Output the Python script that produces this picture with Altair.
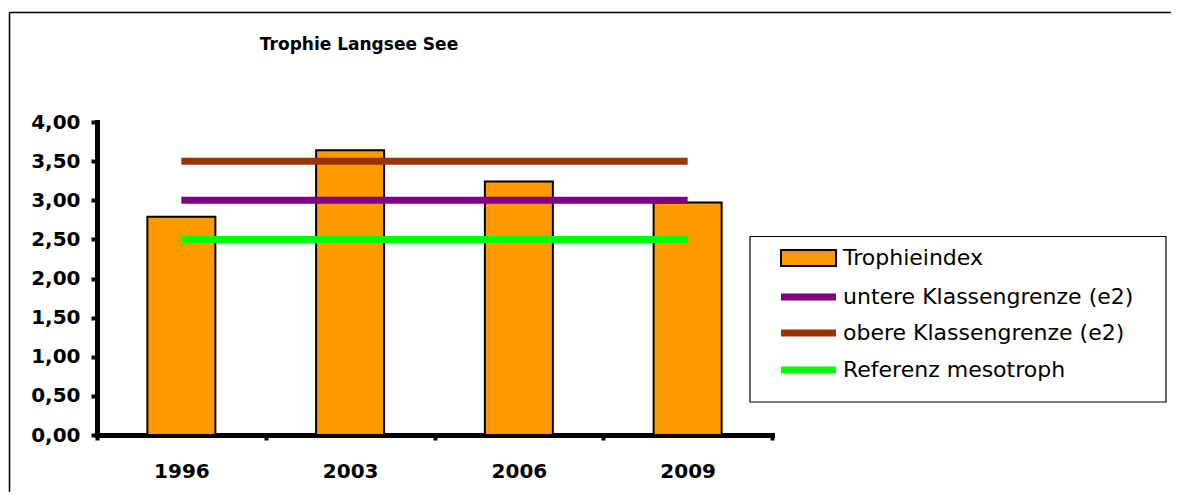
import altair as alt
import pandas as pd

# ---- data ----
years = ["1996", "2003", "2006", "2009"]
trophieindex = [2.79, 3.64, 3.24, 2.97]
untere_grenze = [3.00, 3.00, 3.00, 3.00]
obere_grenze = [3.50, 3.50, 3.50, 3.50]
referenz = [2.50, 2.50, 2.50, 2.50]

bar_name = "Trophieindex"
line_names = ["untere Klassengrenze (e2)", "obere Klassengrenze (e2)", "Referenz mesotroph"]
line_colors = ["#800080", "#993300", "#00FF00"]
bar_color = "#FF9900"
y_ticks = [0.0, 0.5, 1.0, 1.5, 2.0, 2.5, 3.0, 3.5, 4.0]
title_text = "Trophie Langsee See"

# ---- tables ----
bars_df = pd.DataFrame({"year": years, "value": trophieindex})
lines_df = pd.concat(
    [
        pd.DataFrame({"year": years, "value": vals, "series": name})
        for name, vals in zip(line_names, [untere_grenze, obere_grenze, referenz])
    ],
    ignore_index=True,
)
dummy = pd.DataFrame({"d": [0]})

FONT = "DejaVu Sans"
W, H = 675, 313
TOTAL_W = 1163

x_enc = alt.X(
    "year:N",
    sort=years,
    scale=alt.Scale(domain=years, paddingInner=0, paddingOuter=0),
    axis=alt.Axis(
        title=None,
        labelAngle=0,
        tickBand="extent",
        labelPadding=21,
        tickSize=5,
    ),
)
y_enc = alt.Y(
    "value:Q",
    scale=alt.Scale(domain=[0, 4], nice=False),
    axis=alt.Axis(
        title=None,
        values=y_ticks,
        labelExpr="replace(format(datum.value, '.2f'), '.', ',')",
        labelPadding=11,
        tickSize=6,
    ),
)

# outer frame (only top and left edges are visible in the window)
frame_top = alt.Chart(dummy).mark_rule(color="black", strokeWidth=1.5).encode(
    x=alt.value(-87.5), x2=alt.value(TOTAL_W - 89 + 5), y=alt.value(-109.5)
)
frame_left = alt.Chart(dummy).mark_rule(color="black", strokeWidth=1.5).encode(
    x=alt.value(-87.5), y=alt.value(-109.5), y2=alt.value(400)
)

title = alt.Chart(dummy).mark_text(
    text=title_text, font=FONT, fontSize=17, fontWeight="bold",
    align="center", baseline="middle", color="black"
).encode(x=alt.value(262), y=alt.value(-77))

bars = alt.Chart(bars_df).mark_bar(
    size=68, color=bar_color, stroke="black", strokeWidth=2
).encode(x=x_enc, y=y_enc)

lines = alt.Chart(lines_df).mark_line(strokeWidth=7, strokeCap="butt").encode(
    x=x_enc,
    y=y_enc,
    color=alt.Color(
        "series:N",
        scale=alt.Scale(domain=line_names, range=line_colors),
        legend=None,
    ),
)

# manual legend (box + rows)
legend_box = alt.Chart(dummy).mark_rect(
    fill="white", stroke="black", strokeWidth=1.2
).encode(x=alt.value(653), x2=alt.value(1069), y=alt.value(114.5), y2=alt.value(280))

row_y = [136, 175, 211, 248]
legend_layers = [legend_box]
legend_layers.append(
    alt.Chart(dummy).mark_rect(fill=bar_color, stroke="black", strokeWidth=2).encode(
        x=alt.value(684), x2=alt.value(739), y=alt.value(row_y[0] - 8), y2=alt.value(row_y[0] + 8)
    )
)
for ry, col in zip(row_y[1:], line_colors):
    legend_layers.append(
        alt.Chart(dummy).mark_rule(color=col, strokeWidth=7).encode(
            x=alt.value(684), x2=alt.value(739), y=alt.value(ry)
        )
    )
for ry, label in zip(row_y, [bar_name] + line_names):
    legend_layers.append(
        alt.Chart(dummy).mark_text(
            text=label, font=FONT, fontSize=22, align="left", baseline="middle", color="black"
        ).encode(x=alt.value(746), y=alt.value(ry))
    )

chart = alt.layer(frame_top, frame_left, title, bars, lines, *legend_layers).properties(
    width=W,
    height=H,
    autosize=alt.AutoSizeParams(type="none"),
    padding={"left": 89, "top": 114, "right": TOTAL_W - 89 - W, "bottom": 484 - 114 - H},
    background="white",
).configure_view(strokeWidth=0).configure_axis(
    grid=False,
    domainColor="black",
    domainWidth=5,
    domainCap="square",
    tickColor="black",
    tickWidth=4,
    labelFont=FONT,
    labelFontWeight="bold",
    labelFontSize=20,
    labelColor="black",
)

chart.save("out.html", embed_options={"renderer": "svg", "actions": False})
